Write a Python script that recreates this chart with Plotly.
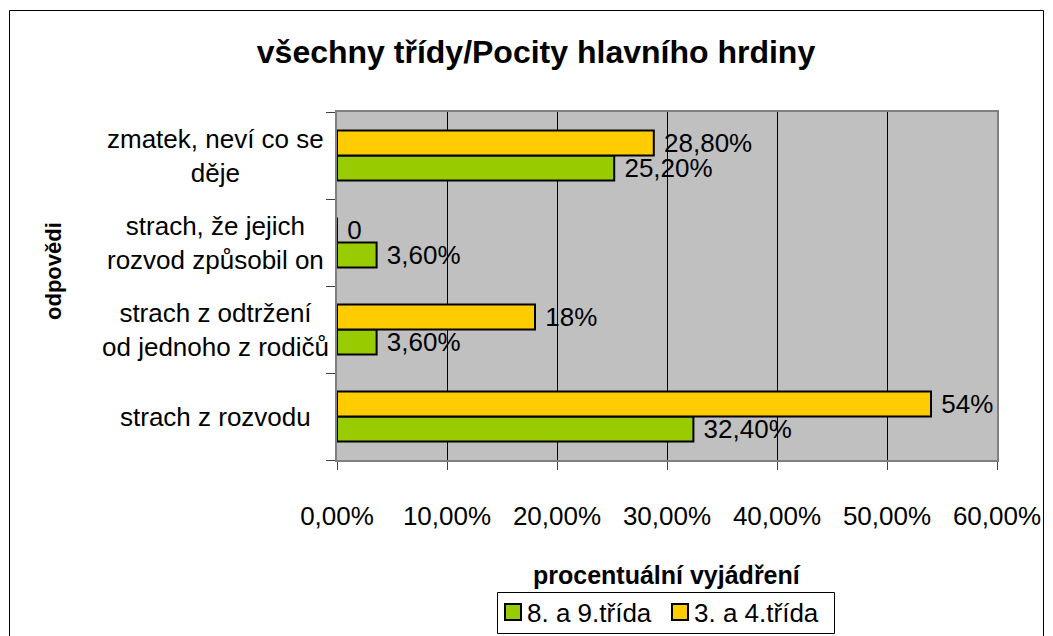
import plotly.graph_objects as go

# Categories (bottom to top on the axis)
categories = [
    "strach z rozvodu",
    "strach z odtržení<br>od jednoho z rodičů",
    "strach, že jejich<br>rozvod způsobil on",
    "zmatek, neví co se<br>děje",
]
series_names = ["8. a 9.třída", "3. a 4.třída"]
values_89 = [32.4, 3.6, 3.6, 25.2]
values_34 = [54.0, 18.0, 0.0, 28.8]
labels_89 = ["32,40%", "3,60%", "3,60%", "25,20%"]
labels_34 = ["54%", "18%", "0", "28,80%"]
x_tick_vals = [0, 10, 20, 30, 40, 50, 60]
x_tick_text = ["0,00%", "10,00%", "20,00%", "30,00%", "40,00%", "50,00%", "60,00%"]

W, H = 1053, 636
ML, MR, MT, MB = 337, 56, 112, 176
PW, PH = W - ML - MR, H - MT - MB

FONT = "Liberation Sans, Arial, sans-serif"
GREEN = "#99CC00"
YELLOW = "#FFCC00"
series_colors = [GREEN, YELLOW]


def px_x(px):
    return (px - ML) / PW


def px_y(py):
    return (H - MB - py) / PH


fig = go.Figure()
for vals, labs, name, color in [
    (values_89, labels_89, series_names[0], GREEN),
    (values_34, labels_34, series_names[1], YELLOW),
]:
    fig.add_trace(go.Bar(
        y=categories, x=vals, orientation="h", name=name, showlegend=False,
        marker=dict(color=color, line=dict(color="black", width=2)),
        text=labs, texttemplate=" %{text}", textposition="outside",
        cliponaxis=False, constraintext="none",
        textfont=dict(family=FONT, size=26, color="black"),
    ))

annotations = []
shapes = []

# Category labels, centered in the left margin
for cat in categories:
    annotations.append(dict(
        xref="paper", yref="y", x=px_x(215), y=cat, text=cat,
        showarrow=False, xanchor="center", yanchor="middle", align="center",
        font=dict(family=FONT, size=26, color="black"),
    ))
# Axis titles
annotations.append(dict(
    xref="paper", yref="paper", x=px_x(667), y=px_y(575),
    text="<b>procentuální vyjádření</b>", showarrow=False,
    xanchor="center", yanchor="middle",
    font=dict(family=FONT, size=25, color="black"),
))
annotations.append(dict(
    xref="paper", yref="paper", x=px_x(53), y=px_y(271),
    text="<b>odpovědi</b>", showarrow=False, textangle=-90,
    xanchor="center", yanchor="middle",
    font=dict(family=FONT, size=22, color="black"),
))

# Outer chart frame
shapes.append(dict(
    type="rect", xref="paper", yref="paper",
    x0=px_x(9.5), x1=px_x(1043.5), y0=px_y(640), y1=px_y(10.5),
    line=dict(color="black", width=1), fillcolor="rgba(0,0,0,0)",
    layer="below",
))

# Legend box with colour keys
shapes.append(dict(
    type="rect", xref="paper", yref="paper",
    x0=px_x(497.5), x1=px_x(834.5), y0=px_y(633.5), y1=px_y(592.5),
    line=dict(color="black", width=1), fillcolor="white", layer="above",
))
key_left = [505, 672]
text_left = [525, 692]
for name, color, kx, tx in zip(series_names, series_colors, key_left, text_left):
    shapes.append(dict(
        type="rect", xref="paper", yref="paper",
        x0=px_x(kx), x1=px_x(kx + 16), y0=px_y(620), y1=px_y(604),
        line=dict(color="black", width=2), fillcolor=color, layer="above",
    ))
    annotations.append(dict(
        xref="paper", yref="paper", x=px_x(tx), y=px_y(613),
        text=name, showarrow=False, xanchor="left", yanchor="middle",
        font=dict(family=FONT, size=26, color="black"),
    ))

fig.update_layout(
    width=W, height=H,
    margin=dict(l=ML, r=MR, t=MT, b=MB, autoexpand=False),
    paper_bgcolor="white",
    plot_bgcolor="#C0C0C0",
    barmode="group", bargap=0.425, bargroupgap=0,
    title=dict(
        text="<b>všechny třídy/Pocity hlavního hrdiny</b>",
        x=536 / W, y=1 - 52 / H, xanchor="center", yanchor="middle",
        font=dict(family=FONT, size=32, color="black"),
    ),
    font=dict(family=FONT, color="black"),
    showlegend=False,
    annotations=annotations,
    shapes=shapes,
)

fig.update_xaxes(
    range=[0, 60], tickvals=x_tick_vals, ticktext=x_tick_text,
    showgrid=True, gridcolor="black", gridwidth=1.2,
    showline=True, linecolor="#808080", linewidth=2, mirror=True,
    ticks="outside", ticklen=8, tickcolor="#404040", tickwidth=1,
    tickfont=dict(family=FONT, size=26, color="black"),
    ticklabelstandoff=24, zeroline=False, fixedrange=True,
)
fig.update_yaxes(
    categoryorder="array", categoryarray=categories,
    showticklabels=False, showgrid=False,
    showline=True, linecolor="#808080", linewidth=2, mirror=True,
    ticks="outside", ticklen=9, tickcolor="#404040", tickwidth=1,
    tickson="boundaries", fixedrange=True,
)

fig.write_html("out.html")
